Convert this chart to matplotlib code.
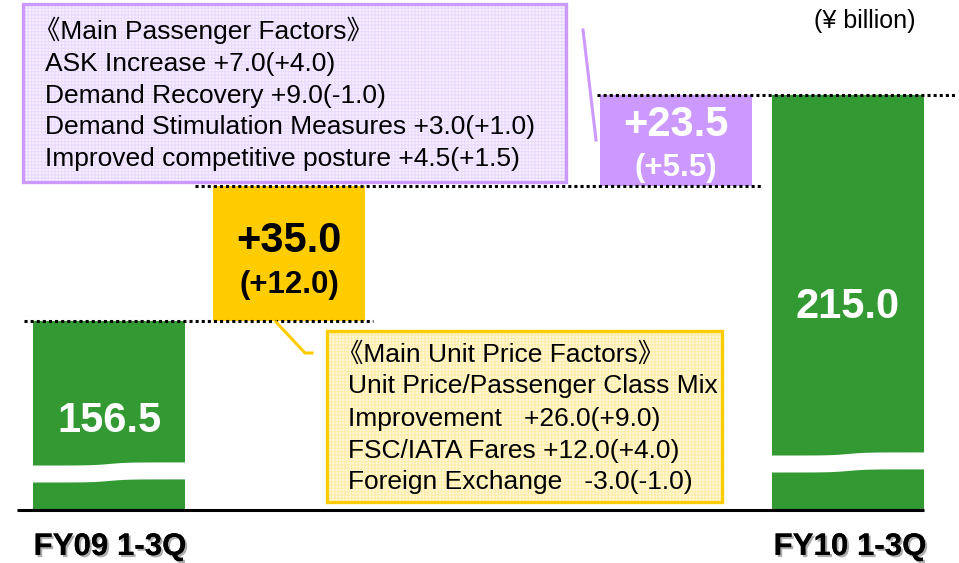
import numpy as np
import matplotlib.pyplot as plt
from matplotlib.patches import Rectangle
import matplotlib.patheffects as pe

plt.rcParams['font.family'] = ['Liberation Sans', 'Noto Sans CJK JP', 'DejaVu Sans']
plt.rcParams['hatch.linewidth'] = 0.9

# data (¥ billion)
categories = ['FY09 1-3Q', 'FY10 1-3Q']
start_value = 156.5
end_value = 215.0
step_names = ['unit price', 'passengers']
step_values = [35.0, 23.5]
step_yoy = [12.0, 5.5]

unit_price_lines = ['《Main Unit Price Factors》',
                    'Unit Price/Passenger Class Mix',
                    'Improvement   +26.0(+9.0)',
                    'FSC/IATA Fares +12.0(+4.0)',
                    'Foreign Exchange   -3.0(-1.0)']
passenger_lines = ['《Main Passenger Factors》',
                   'ASK Increase +7.0(+4.0)',
                   'Demand Recovery +9.0(-1.0)',
                   'Demand Stimulation Measures +3.0(+1.0)',
                   'Improved competitive posture +4.5(+1.5)']

GREEN = '#339933'
GOLD = '#FFCC00'
PURPLE = '#CC99FF'

W, H = 959, 563
BASE_PX = 510          # pixel row of the baseline
PX_PER_UNIT = 3.86
BREAK_AT = 107.5       # the part of every bar hidden by the axis break

fig = plt.figure(figsize=(W / 100, H / 100), dpi=100)
ax = fig.add_axes([0, 0, 1, 1])
ax.set_xlim(0, W)
ax.set_ylim(-(H - BASE_PX) / PX_PER_UNIT, BASE_PX / PX_PER_UNIT)
ax.axis('off')


def py(y):
    # pixel row (from top) -> data y
    return (BASE_PX - y) / PX_PER_UNIT


def dpx(n):
    # pixel distance -> data distance
    return n / PX_PER_UNIT


# bar layout (x in pixels)
bar_w = 152
x_start, x_up1, x_up2, x_end = 109, 289, 676, 848

levels = np.cumsum([start_value] + step_values)
bottoms = [0, levels[0] - BREAK_AT, levels[1] - BREAK_AT, 0]
heights = [start_value - BREAK_AT, step_values[0], step_values[1], end_value - BREAK_AT]
colors = [GREEN, GOLD, PURPLE, GREEN]
ax.bar([x_start, x_up1, x_up2, x_end], heights, bottom=bottoms, width=bar_w,
       color=colors, zorder=2)

# axis break bands
for xc, y_low in [(x_start, py(482)), (x_end, py(472))]:
    xs = np.linspace(xc - bar_w / 2 - 2, xc + bar_w / 2 + 2, 100)
    wave = 0.8 * (np.tanh((xs - xc) / 18) + 1) / 2
    ax.fill_between(xs, y_low + wave, y_low + wave + 4.4, color='white', zorder=3, lw=0)

# baseline
ax.plot([17, 924], [0, 0], color='black', lw=2.2, zorder=4, solid_capstyle='butt')

# dotted level lines
dot = dict(color='black', lw=2.2, linestyles=(0, (1, 1)), zorder=5)
ax.hlines(levels[0] - BREAK_AT, 24, 373, **dot)
ax.hlines(levels[1] - BREAK_AT, 195, 761, **dot)
ax.hlines(end_value - BREAK_AT, 597, 955, **dot)

# bar labels
big = dict(ha='center', va='baseline', fontsize=30, fontweight='bold', zorder=6)
mid = dict(ha='center', va='baseline', fontsize=22.5, fontweight='bold', zorder=6)
ax.text(x_start, py(432), f'{start_value:.1f}', color='white', **big)
ax.text(x_end, py(318), f'{end_value:.1f}', color='white', **big)

gold_mid = bottoms[1] + heights[1] / 2
ax.text(x_up1, gold_mid + dpx(1.5), f'+{step_values[0]:.1f}', color='black', **big)
ax.text(x_up1, gold_mid - dpx(39.5), f'(+{step_yoy[0]:.1f})', color='black', **mid)
purple_mid = bottoms[2] + heights[2] / 2
ax.text(x_up2, purple_mid + dpx(4), f'+{step_values[1]:.1f}', color='white', **big)
ax.text(x_up2, purple_mid - dpx(36), f'(+{step_yoy[1]:.1f})', color='white', **mid)

# category labels with a grey shadow
shadow = [pe.withSimplePatchShadow(offset=(1.5, -1.5), shadow_rgbFace='#999999', alpha=0.8),
          pe.Normal()]
ax.text(x_start + 1, py(555), categories[0], ha='center', va='baseline', fontsize=22.5,
        fontweight='bold', path_effects=shadow)
ax.text(x_end + 2, py(555), categories[1], ha='center', va='baseline', fontsize=22.5,
        fontweight='bold', path_effects=shadow)

ax.text(865, py(28), '(¥ billion)', ha='center', va='baseline', fontsize=18)


def note_box(x0, x1, y0, y1, fill, grid, edge, lines, tx, baselines):
    ax.add_patch(Rectangle((x0, py(y1)), x1 - x0, py(y0) - py(y1), facecolor=fill,
                           edgecolor=grid, hatch='+++++', lw=0, zorder=6))
    ax.add_patch(Rectangle((x0, py(y1)), x1 - x0, py(y0) - py(y1), facecolor='none',
                           edgecolor=edge, lw=2.4, zorder=7))
    for s, b in zip(lines, baselines):
        # the full-width 《 carries blank space on its left
        x = tx - 11 if s.startswith('《') else tx
        ax.text(x, py(b), s, ha='left', va='baseline', fontsize=19, color='black', zorder=8)


note_box(23, 566, 4, 182, '#F8F2FF', '#EADAFF', PURPLE, passenger_lines, 45,
         [39, 71, 103, 134, 166])
note_box(327, 722, 331, 502, '#FFF9E0', '#FFEDAA', GOLD, unit_price_lines, 348,
         [362, 393, 426, 458, 489])

# callout pointers
ax.plot([583, 596], [py(30), py(140)], color=PURPLE, lw=2.2, zorder=5)
ax.plot([276, 305, 312], [py(322), py(353), py(353)], color=GOLD, lw=2.2, zorder=5)

fig.savefig('out.png', dpi=100)
